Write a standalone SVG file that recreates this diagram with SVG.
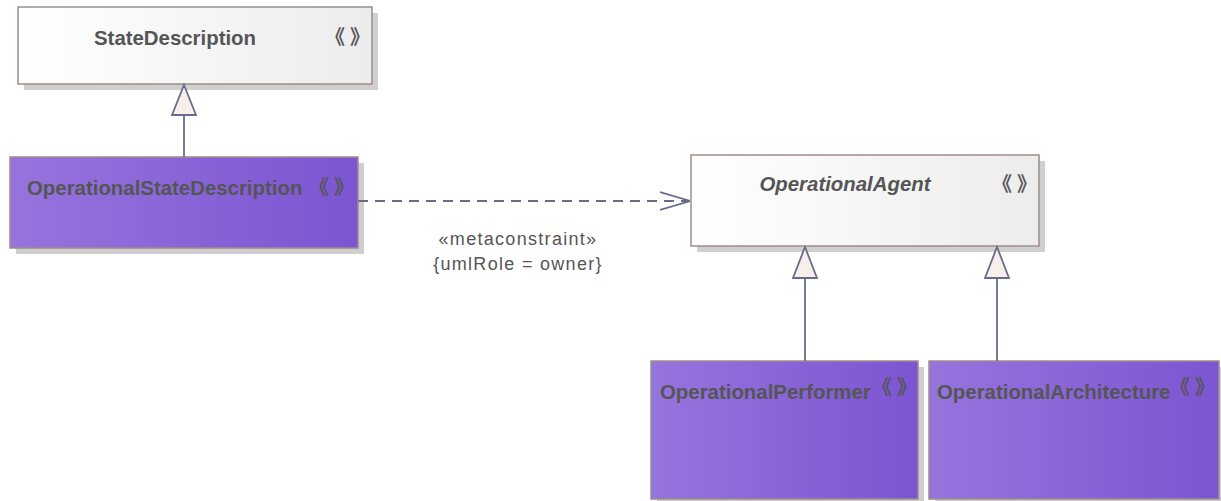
<svg xmlns="http://www.w3.org/2000/svg" width="1221" height="501" viewBox="0 0 1221 501">
<style>
.box{stroke:#a08c8c;stroke-width:1.5}
.sh{fill:#cfcfcf}
.t{font-family:"Liberation Sans",Arial,sans-serif;font-size:20.4px;font-weight:bold;fill:#555}
.st{font-family:"Noto Sans CJK SC","Liberation Sans",sans-serif;font-size:20px;font-weight:bold;letter-spacing:5px;fill:#555}
.lbl{font-family:"Liberation Sans",Arial,sans-serif;font-size:18px;letter-spacing:1.3px;fill:#555;text-anchor:middle}
.ln{stroke:#646e8c;stroke-width:1.8;fill:none}
.tri{fill:#f8efeb;stroke:#646e8c;stroke-width:1.8}
</style>
<defs>
<linearGradient id="gw" x1="0" y1="0" x2="1" y2="0"><stop offset="0" stop-color="#ffffff"/><stop offset="1" stop-color="#ececec"/></linearGradient>
<linearGradient id="gp" x1="0" y1="0" x2="1" y2="0"><stop offset="0" stop-color="#9674dd"/><stop offset="1" stop-color="#7c55d2"/></linearGradient>
<marker id="open" viewBox="0 0 30 20" refX="30" refY="10" markerWidth="30" markerHeight="20" markerUnits="userSpaceOnUse" orient="auto"><path d="M0,1 L30,10 L0,19" fill="none" stroke="#646e8c" stroke-width="1.8"/></marker>
</defs>
<g id="StateDescription">
<rect class="sh" x="24" y="13" width="354" height="77"/>
<rect class="box" x="18" y="7" width="354" height="77" fill="url(#gw)"/>
<text class="t" x="175" y="45" text-anchor="middle">StateDescription</text>
<text class="st" x="325" y="44">《》</text>
</g>
<g id="OperationalStateDescription">
<rect class="sh" x="16" y="163" width="348" height="91"/>
<rect class="box" x="10" y="157" width="348" height="91" fill="url(#gp)"/>
<text class="t" x="27" y="195">OperationalStateDescription</text>
<text class="st" x="309" y="194">《》</text>
</g>
<g id="OperationalAgent">
<rect class="sh" x="697" y="161" width="348" height="91"/>
<rect class="box" x="691" y="155" width="348" height="91" fill="url(#gw)"/>
<text class="t" x="845" y="191" text-anchor="middle" font-style="italic">OperationalAgent</text>
<text class="st" x="992" y="191">《》</text>
</g>
<g id="OperationalPerformer">
<rect class="sh" x="657" y="367" width="267" height="138"/>
<rect class="box" x="651" y="361" width="267" height="138" fill="url(#gp)"/>
<text class="t" x="660" y="399">OperationalPerformer</text>
<text class="st" x="872" y="394">《》</text>
</g>
<g id="OperationalArchitecture">
<rect class="sh" x="935" y="367" width="290" height="138"/>
<rect class="box" x="929" y="361" width="290" height="138" fill="url(#gp)"/>
<text class="t" x="937" y="399">OperationalArchitecture</text>
<text class="st" x="1170" y="394">《》</text>
</g>
<g id="connectors">
<line class="ln" x1="184" y1="115" x2="184" y2="157"/>
<path class="tri" d="M184,85 L196,115 L172,115 Z"/>
<line class="ln" x1="805" y1="278" x2="805" y2="361"/>
<path class="tri" d="M805,247 L817,278 L793,278 Z"/>
<line class="ln" x1="997" y1="278" x2="997" y2="361"/>
<path class="tri" d="M997,247 L1009,278 L985,278 Z"/>
<line class="ln" x1="358" y1="201" x2="690" y2="201" stroke-dasharray="10,7" marker-end="url(#open)"/>
<text class="lbl" x="518" y="245">«metaconstraint»</text>
<text class="lbl" x="518" y="270">{umlRole = owner}</text>
</g>
</svg>
